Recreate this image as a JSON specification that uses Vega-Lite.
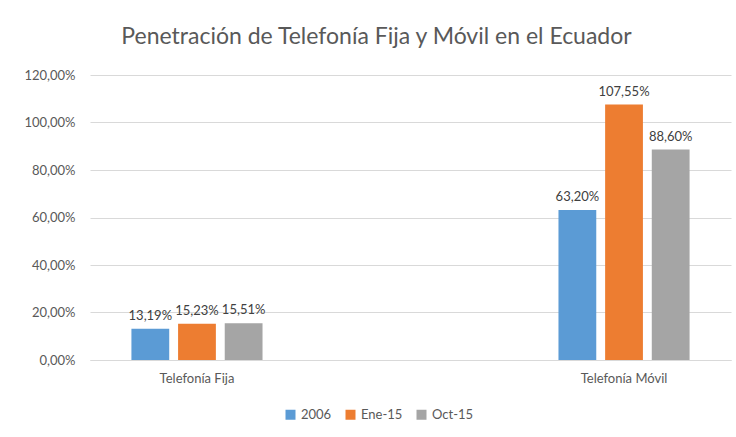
{
  "$schema": "https://vega.github.io/schema/vega-lite/v6.json",
  "width": 641,
  "height": 285,
  "autosize": {"type": "none"},
  "padding": {"left": 90, "top": 75, "right": 5, "bottom": 77},
  "background": "white",
  "title": {
    "text": "Penetración de Telefonía Fija y Móvil en el Ecuador",
    "font": "Lato",
    "fontSize": 23,
    "fontWeight": "normal",
    "color": "#595959",
    "anchor": "middle",
    "dx": -34,
    "offset": 20
  },
  "config": {
    "locale": {"number": {"decimal": ",", "thousands": ".", "grouping": [3], "currency": ["$", ""]}},
    "view": {"stroke": null},
    "font": "Lato"
  },
  "data": {
    "values": [
      {"tipo": "Telefonía Fija", "periodo": "2006", "valor": 0.1319},
      {"tipo": "Telefonía Fija", "periodo": "Ene-15", "valor": 0.1523},
      {"tipo": "Telefonía Fija", "periodo": "Oct-15", "valor": 0.1551},
      {"tipo": "Telefonía Móvil", "periodo": "2006", "valor": 0.632},
      {"tipo": "Telefonía Móvil", "periodo": "Ene-15", "valor": 1.0755},
      {"tipo": "Telefonía Móvil", "periodo": "Oct-15", "valor": 0.886}
    ]
  },
  "encoding": {
    "x": {
      "field": "tipo",
      "type": "nominal",
      "sort": null,
      "scale": {"paddingInner": 0.693, "paddingOuter": 0.097},
      "axis": {
        "title": null,
        "labelAngle": 0,
        "labelFontSize": 13,
        "labelColor": "#595959",
        "labelPadding": 12,
        "ticks": false,
        "domainColor": "#d9d9d9",
        "domainWidth": 1
      }
    },
    "xOffset": {
      "field": "periodo",
      "type": "nominal",
      "sort": ["2006", "Ene-15", "Oct-15"],
      "scale": {"paddingInner": 0.19, "paddingOuter": 0}
    },
    "y": {
      "field": "valor",
      "type": "quantitative",
      "scale": {"domain": [0, 1.2]},
      "axis": {
        "title": null,
        "format": ".2%",
        "values": [0, 0.2, 0.4, 0.6, 0.8, 1.0, 1.2],
        "labelFontSize": 13,
        "labelColor": "#595959",
        "labelPadding": 15,
        "ticks": false,
        "domain": false,
        "gridColor": "#d9d9d9"
      }
    }
  },
  "layer": [
    {
      "mark": {"type": "bar"},
      "encoding": {
        "color": {
          "field": "periodo",
          "type": "nominal",
          "sort": ["2006", "Ene-15", "Oct-15"],
          "scale": {"domain": ["2006", "Ene-15", "Oct-15"], "range": ["#5B9BD5", "#ED7D31", "#A5A5A5"]},
          "legend": {
            "title": null,
            "orient": "none",
            "direction": "horizontal",
            "legendX": 194,
            "legendY": 333,
            "symbolType": "square",
            "symbolSize": 100,
            "symbolStrokeWidth": 0,
            "labelFontSize": 13,
            "labelColor": "#595959",
            "columnPadding": 12,
            "labelOffset": 4
          }
        }
      }
    },
    {
      "mark": {"type": "text", "baseline": "bottom", "dy": -6, "fontSize": 13, "color": "#404040"},
      "encoding": {
        "text": {"field": "valor", "type": "quantitative", "format": ".2%"}
      }
    }
  ]
}
